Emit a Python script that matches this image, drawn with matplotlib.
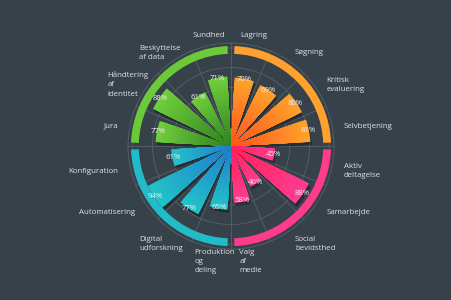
import numpy as np
import matplotlib
matplotlib.use('Agg')
import matplotlib.pyplot as plt
import matplotlib.patheffects as pe
from matplotlib.colors import to_rgb

# Dados: competências digitais (sentido horário a partir do topo)
categorias = ['Lagring', 'Søgning', 'Kritisk\nevaluering', 'Selvbetjening',
              'Aktiv\ndeltagelse', 'Samarbejde', 'Social\nbevidsthed', 'Valg\naf\nmedie',
              'Produktion\nog\ndeling', 'Digital\nudforskning', 'Automatisering', 'Konfiguration',
              'Jura', 'Håndtering\naf\nidentitet', 'Beskyttelse\naf data', 'Sundhed']
valores = [70, 69, 80, 81, 45, 88, 46, 58, 65, 77, 94, 61, 77, 88, 61, 71]
grupos = ['info', 'info', 'info', 'info',
          'komm', 'komm', 'komm', 'komm',
          'prod', 'prod', 'prod', 'prod',
          'sikk', 'sikk', 'sikk', 'sikk']

# Estilo: cor interna, cor externa e cor do anel de cada grupo
cores = {
    'info': ('#ff4f1c', '#ffa22c', '#ffa12e'),
    'komm': ('#ff1e55', '#ff3d92', '#ff3b8c'),
    'prod': ('#1f78cc', '#22c2c9', '#22bcc8'),
    'sikk': ('#2a7e1e', '#70cd3b', '#6cc93a'),
}
fundo = '#37414a'
grade = '#56616a'
texto = '#dfe2e4'

plt.rcParams['font.family'] = ['Open Sans', 'DejaVu Sans']

fig = plt.figure(figsize=(4.52, 3.0), dpi=100, facecolor=fundo)
ax = fig.add_axes([0.2832, 0.1697, 0.4558, 0.6867], projection='polar')
ax.set_facecolor(fundo)
ax.set_theta_zero_location('N')
ax.set_theta_direction(-1)
ax.set_ylim(0, 105)

n = len(categorias)
passo = 2 * np.pi / n
theta = np.arange(n) * passo + passo / 2
largura = passo * 0.73

# grade
ax.set_xticks(np.arange(n) * passo)
ax.set_xticklabels([])
ax.set_yticks([20, 40, 60, 80, 100])
ax.set_yticklabels([])
ax.grid(True, color=grade, linewidth=0.6)
ax.spines['polar'].set_color(grade)
ax.spines['polar'].set_linewidth(0.6)
ax.set_axisbelow(True)

# sombras das barras
sombra = [pe.SimplePatchShadow(offset=(1, -2.2), shadow_rgbFace='#161b1f', alpha=0.55)]
for th, v in zip(theta, valores):
    ax.bar(th, v, width=largura, color=fundo, linewidth=0, path_effects=sombra, zorder=2)

# barras com degradê (barras aninhadas, da externa para a interna)
passos = 24
for th, v, g in zip(theta, valores, grupos):
    c_in = np.array(to_rgb(cores[g][0]))
    c_out = np.array(to_rgb(cores[g][1]))
    for k in range(passos, 0, -1):
        f = k / passos
        ax.bar(th, v * f, width=largura, color=c_in + (c_out - c_in) * f,
               linewidth=0, zorder=3)

# anel externo de cada grupo
for i, g in enumerate(['info', 'komm', 'prod', 'sikk']):
    ax.bar(i * np.pi / 2 + np.pi / 4, 8, bottom=94, width=np.radians(86),
           color=cores[g][2], linewidth=0, zorder=3)

# rótulos de porcentagem
for th, v in zip(theta, valores):
    ax.text(th, v - 1, f'{v}%', ha='center', va='center', fontsize=5.6,
            color='#f0f0f0', zorder=5)

# rótulos das categorias (texto quebrado numa caixa de ~28 px)
caixa = 28
for th, lab in zip(theta, categorias):
    s = np.sin(th)
    lado = 'center' if abs(s) < 0.3 else ('left' if s > 0 else 'right')
    if '\n' in lab:
        dx = {'left': 0, 'center': -caixa / 2, 'right': -caixa}[lado]
        ha = 'left'
    else:
        dx, ha = 0, lado
    ax.annotate(lab, xy=(th, 117.3), xytext=(dx, -2.5), textcoords='offset pixels',
                ha=ha, va='center', multialignment='left', linespacing=1.45,
                fontsize=5.7, color=texto, annotation_clip=False)

fig.savefig('out.png', dpi=100, facecolor=fundo)
